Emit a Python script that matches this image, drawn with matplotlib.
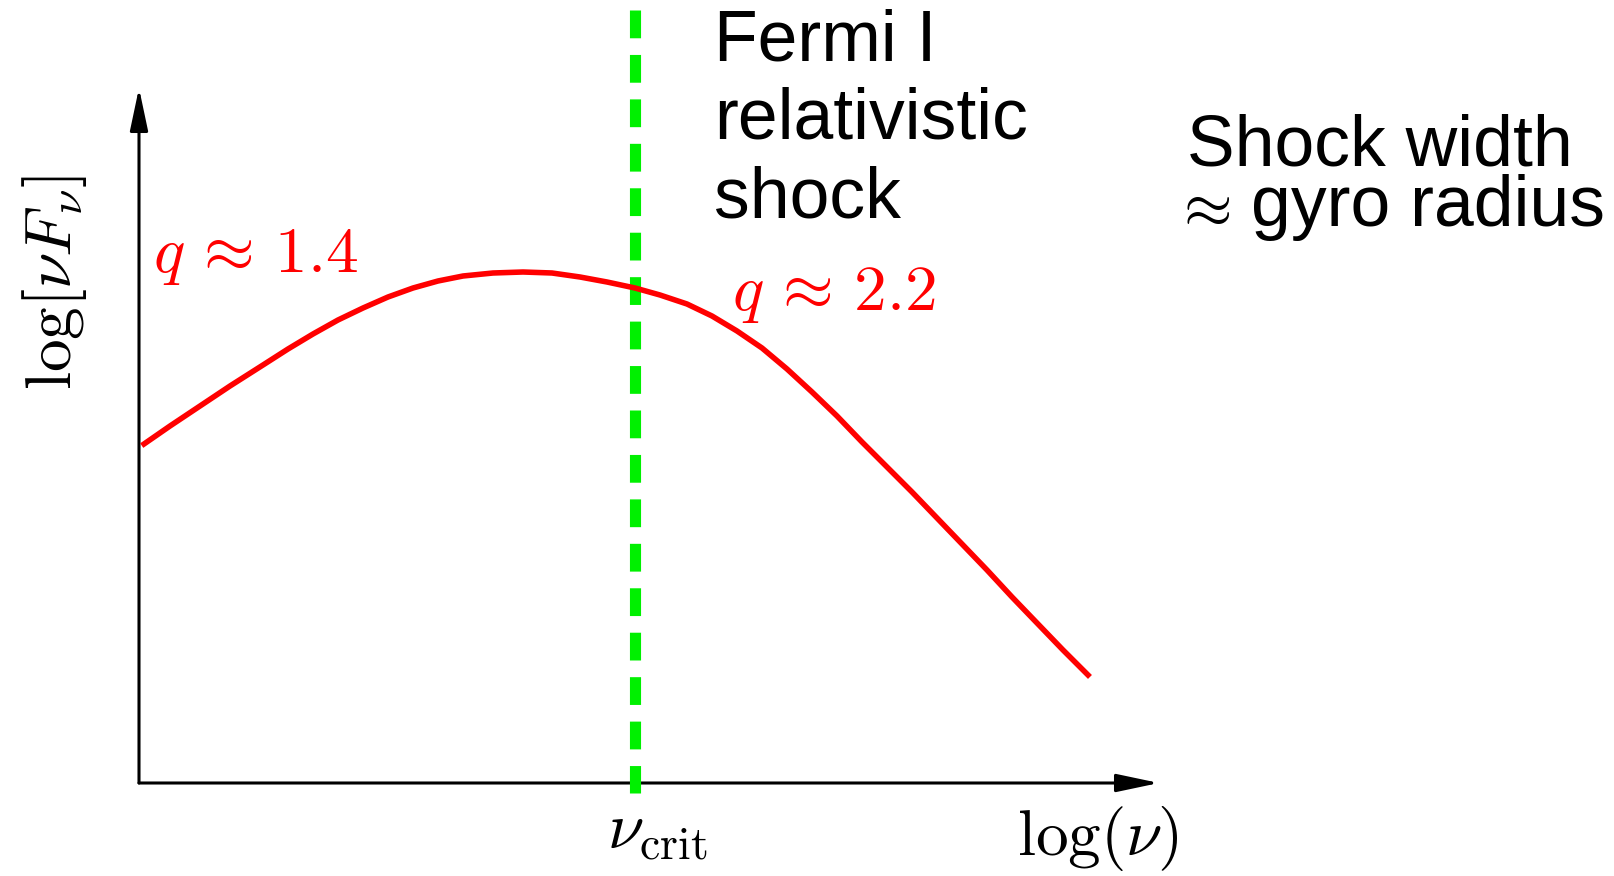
import matplotlib
matplotlib.use("Agg")
import matplotlib.pyplot as plt
from matplotlib.patches import FancyArrowPatch

plt.rcParams['mathtext.fontset'] = 'cm'

# spectrum sketch: log(nu) vs log(nu F_nu), arbitrary units
log_nu = [0.05, 0.31, 0.58, 0.91, 1.24, 1.49, 1.74, 1.99, 2.24, 2.49,
          2.74, 2.99, 3.24, 3.54, 3.84, 4.13, 4.41, 4.68, 4.96,
          5.21, 5.48, 5.73, 5.98, 6.23, 6.48, 6.73, 6.98, 7.23,
          7.48, 7.73, 7.98, 8.23, 8.48, 8.73, 8.98, 9.24, 9.49]
log_nuFnu = [3.39, 3.57, 3.75, 3.97, 4.18, 4.34, 4.49, 4.63, 4.75, 4.86,
             4.95, 5.02, 5.07, 5.10, 5.11, 5.10, 5.06, 5.01, 4.95,
             4.88, 4.79, 4.67, 4.52, 4.35, 4.14, 3.91, 3.67, 3.41,
             3.16, 2.91, 2.65, 2.39, 2.13, 1.86, 1.60, 1.33, 1.08]
nu_crit = 4.96
x_end, y_end = 10.2, 6.95

fig = plt.figure(figsize=(16.14, 8.76), dpi=100)
ax = fig.add_axes([0, 0, 1, 1])
ax.set_xlim(-1.39, 14.75)
ax.set_ylim(-0.93, 7.83)
ax.axis('off')

# axes with arrow heads
for tip in [(x_end, 0), (0, y_end)]:
    arr = FancyArrowPatch((0, 0), tip, arrowstyle='-|>,head_length=2.6,head_width=0.55',
                          mutation_scale=10, color='black', lw=2.2,
                          shrinkA=0, shrinkB=0)
    ax.add_patch(arr)

# critical frequency
ax.plot([nu_crit, nu_crit], [7.73, -0.10], color='#00f000', lw=8,
        linestyle=(0, (2.5, 1.5)), dash_capstyle='butt')

ax.plot(log_nu, log_nuFnu, color='red', lw=4, solid_joinstyle='round')

ax.text(0.14, 5.11, r'$q\,\approx\,1.4$', color='red', fontsize=47, va='baseline', ha='left')
ax.text(5.93, 4.73, r'$q\,\approx\,2.2$', color='red', fontsize=47, va='baseline', ha='left')
ax.text(nu_crit + 0.22, -0.15, r'$\nu_{\mathrm{crit}}$', fontsize=47, va='top', ha='center')
ax.text(10.40, -0.90, r'$\log(\nu)$', fontsize=47, va='bottom', ha='right')
ax.text(-0.84, 5.0, r'$\log[\nu F_\nu]$', fontsize=47, va='center', ha='center', rotation=90)

ax.text(5.75, 5.66, 'Fermi I\nrelativistic\nshock', fontsize=51.5, family='Liberation Sans',
        va='baseline', ha='left', linespacing=1.22)

# shock width note, the approx sign in math font
ax.text(10.48, 6.18, 'Shock width', fontsize=51.5, family='Liberation Sans',
        va='baseline', ha='left')
ax.text(10.34, 5.57, r'$\approx$', fontsize=45, va='baseline', ha='left')
ax.text(14.66, 5.57, 'gyro radius', fontsize=51.5, family='Liberation Sans',
        va='baseline', ha='right')

fig.savefig('out.png', dpi=100)
